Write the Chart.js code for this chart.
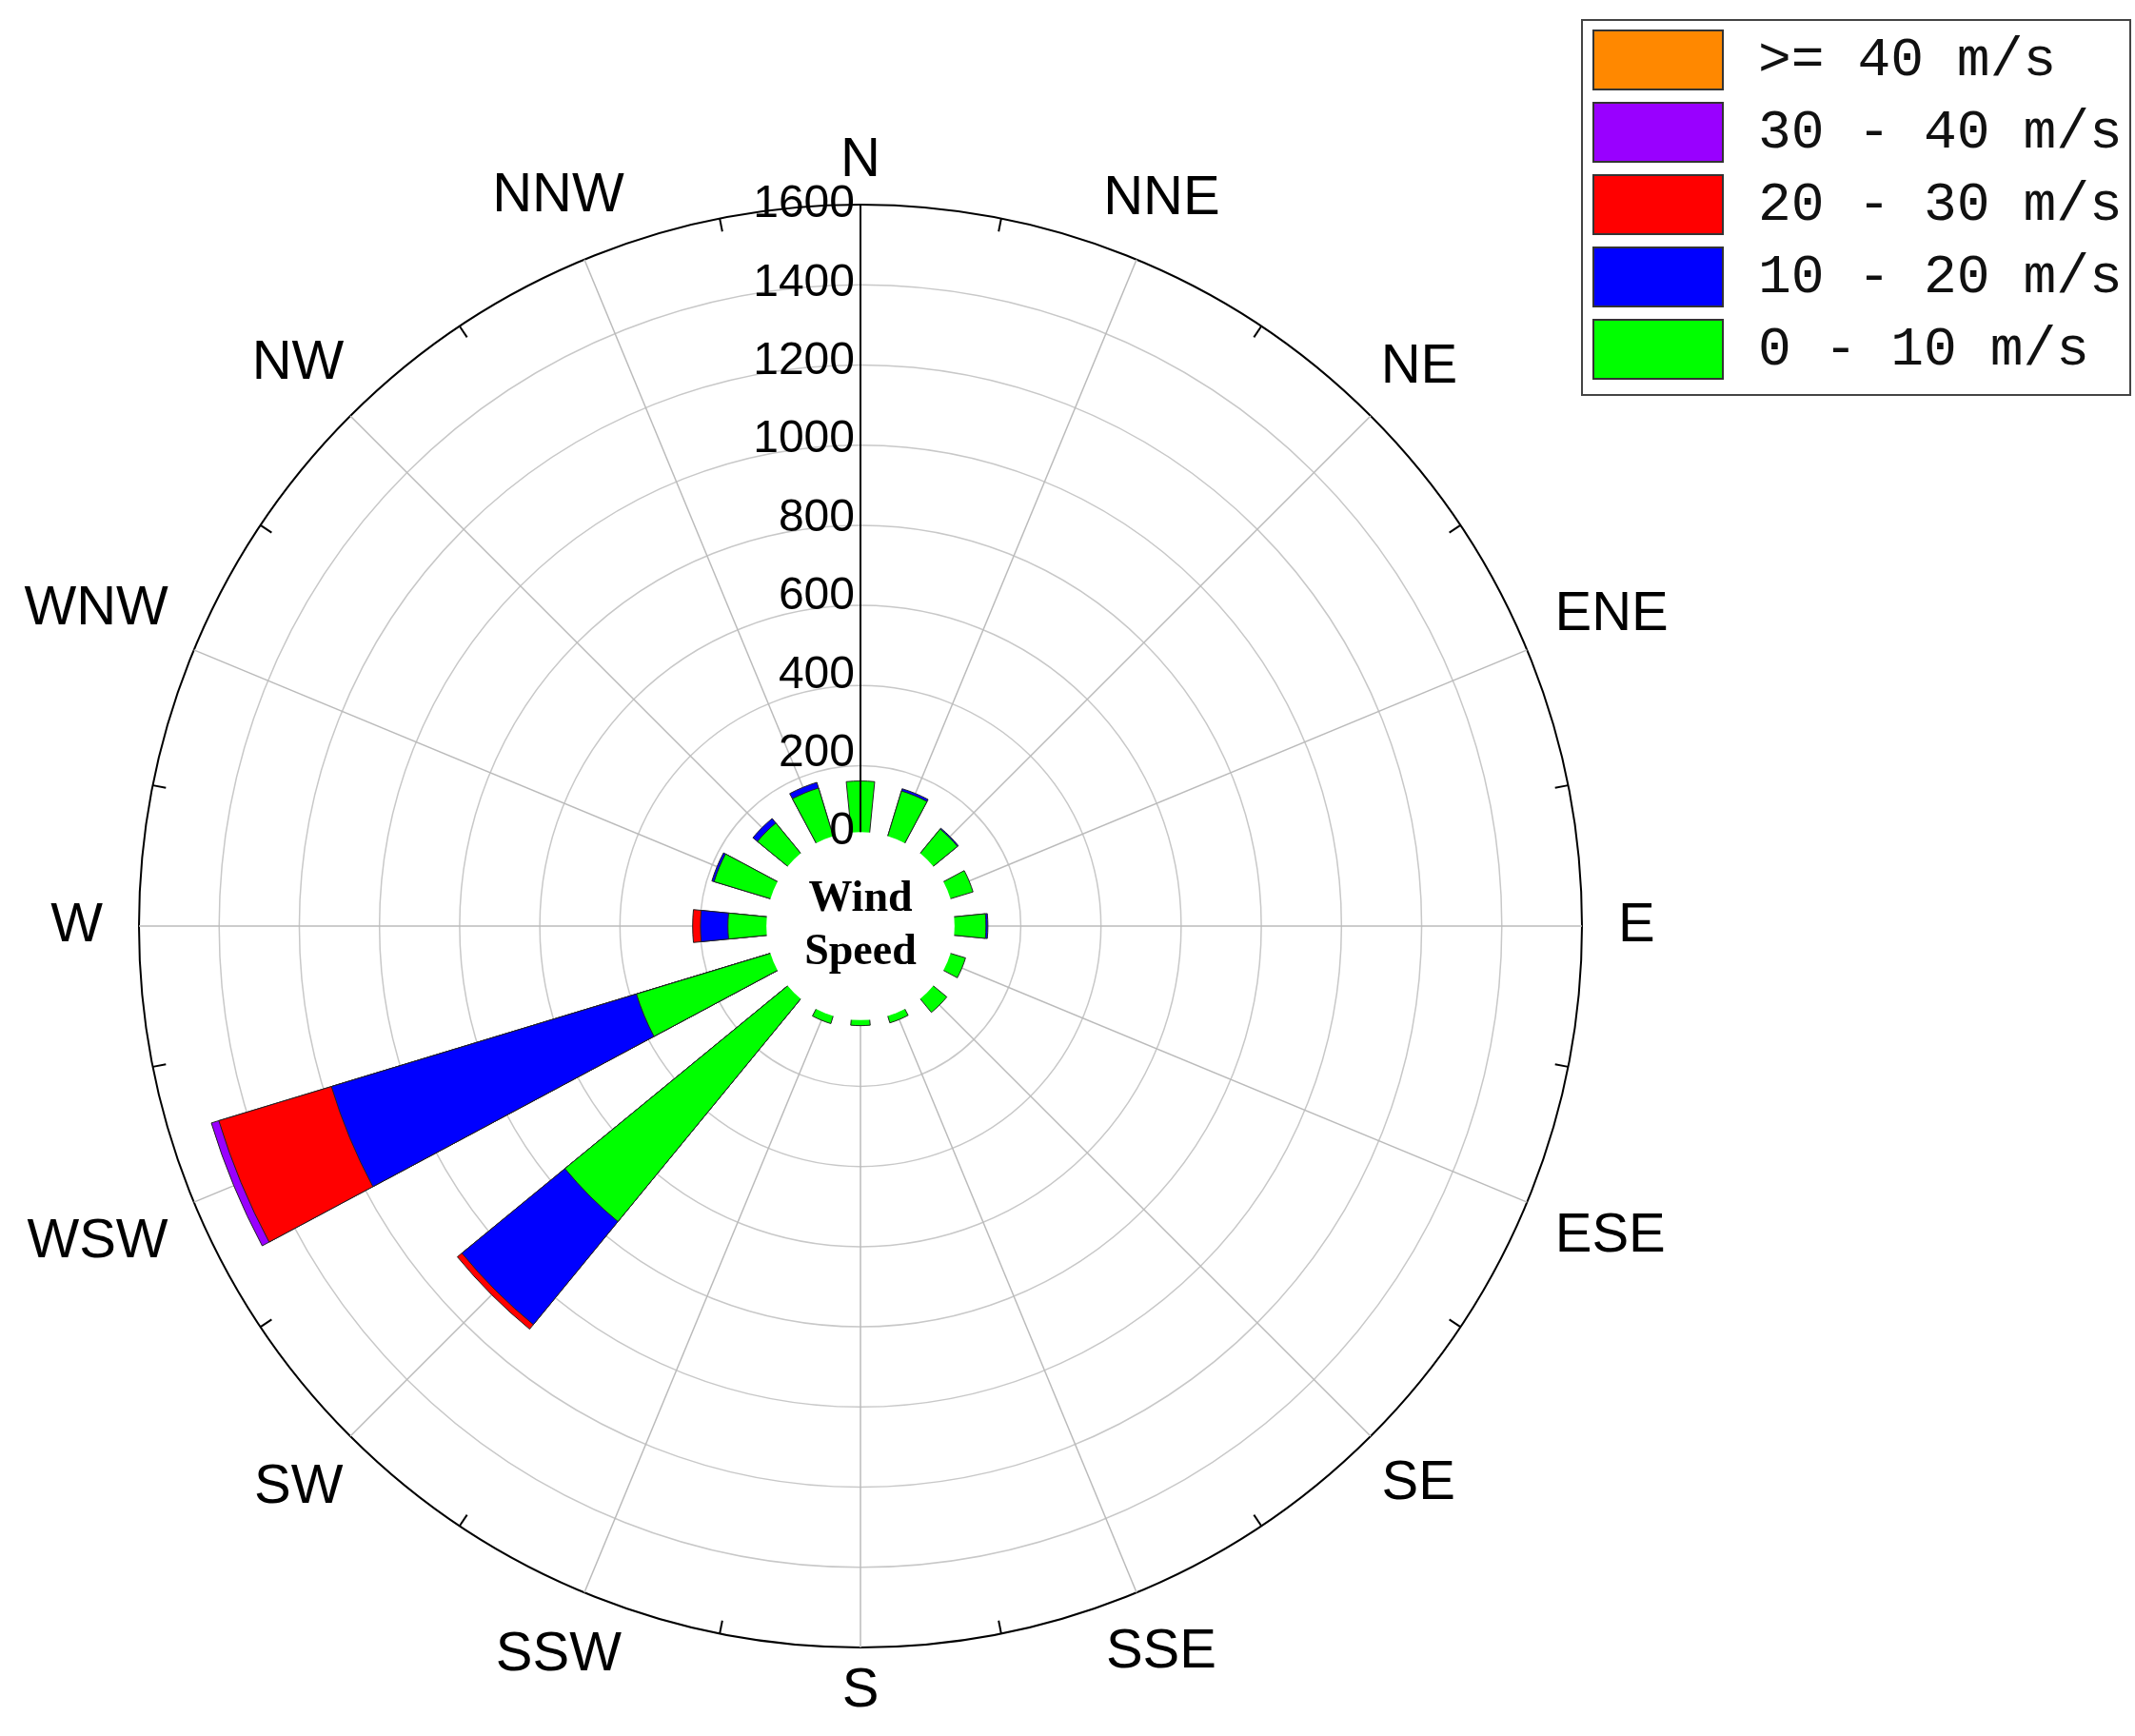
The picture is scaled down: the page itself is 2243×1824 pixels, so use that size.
<!DOCTYPE html>
<html>
<head>
<meta charset="utf-8">
<script src="https://cdn.jsdelivr.net/npm/chart.js@4/dist/chart.umd.min.js"></script>
<style>
  body { margin: 0; background: #fff; }
  #wrap { position: relative; width: 2243px; height: 1824px; }
  #legend { position: absolute; left: 1661px; top: 20px; width: 578px; height: 396px;
    border: 2px solid #444; box-sizing: border-box; background: #fff; }
  .row { position: absolute; left: 10px; height: 66px; display: flex; align-items: center; }
  .sw { width: 138px; height: 64px; border: 2px solid #333; box-sizing: border-box; }
  .lbl { margin-left: 36px; font-family: "Liberation Mono", monospace; font-size: 58px; color: #111; white-space: pre; }
</style>
</head>
<body>
<div id="wrap">
  <canvas id="rose" width="2243" height="1824"></canvas>
  <div id="legend"></div>
</div>
<script>
// Directions and wind-speed bins
const directions = ['N', 'NNE', 'NE', 'ENE', 'E', 'ESE', 'SE', 'SSE', 'S', 'SSW', 'SW', 'WSW', 'W', 'WNW', 'NW', 'NNW'];
const binLabels = ['0 - 10 m/s', '10 - 20 m/s', '20 - 30 m/s', '30 - 40 m/s', '>= 40 m/s'];
const binColors = ['#00ff00', '#0000ff', '#ff0000', '#9900ff', '#ff8800'];

// counts per direction for each bin
const speed0to10  = [130, 120, 80, 60, 80, 40, 45, 18, 14, 20, 735, 357, 98, 150, 100, 128];
const speed10to20 = [0, 6, 3, 0, 5, 0, 0, 0, 0, 0, 340, 813, 70, 6, 15, 15];
const speed20to30 = [0, 0, 0, 0, 0, 0, 0, 0, 0, 0, 15, 300, 20, 0, 0, 0];
const speed30to40 = [0, 0, 0, 0, 0, 0, 0, 0, 0, 0, 0, 20, 0, 0, 0, 0];
const speed40up   = [0, 0, 0, 0, 0, 0, 0, 0, 0, 0, 0, 0, 0, 0, 0, 0];

const rTicks = [0, 200, 400, 600, 800, 1000, 1200, 1400, 1600];
const rMin = -240, rMax = 1600;

const bins = [speed0to10, speed10to20, speed20to30, speed30to40, speed40up];

// cumulative totals, with an empty slot between neighbouring directions
const labels = [];
directions.forEach(d => { labels.push(d); labels.push(''); });
const datasets = bins.map((bin, b) => {
  const data = [];
  directions.forEach((d, i) => {
    let sum = 0;
    for (let k = 0; k <= b; k++) sum += bins[k][i];
    data.push(bin[i] > 0 || b === 0 ? sum : rMin);
    data.push(rMin);
  });
  return {
    label: binLabels[b],
    data: data,
    backgroundColor: binColors[b],
    borderColor: '#222',
    borderWidth: 1
  };
});

const decor = {
  id: 'decor',
  beforeDatasetsDraw(chart) {
    const r = chart.scales.r, c = chart.ctx;
    const cx = r.xCenter, cy = r.yCenter, R = r.drawingArea;
    c.save();
    c.strokeStyle = '#bbb'; c.lineWidth = 1.5;
    for (let i = 0; i < 16; i++) {
      const a = i * Math.PI / 8 - Math.PI / 2;
      c.beginPath();
      c.moveTo(cx, cy);
      c.lineTo(cx + R * Math.cos(a), cy + R * Math.sin(a));
      c.stroke();
    }
    c.restore();
  },
  afterDatasetsDraw(chart) {
    const r = chart.scales.r, c = chart.ctx;
    const cx = r.xCenter, cy = r.yCenter, R = r.drawingArea;
    const hole = r.getDistanceFromCenterForValue(0);
    c.save();
    // hole
    c.fillStyle = '#fff';
    c.beginPath(); c.arc(cx, cy, hole, 0, Math.PI * 2); c.fill();
    c.fillStyle = '#000';
    c.font = 'bold 46px "Liberation Serif"';
    c.textAlign = 'center'; c.textBaseline = 'middle';
    c.fillText('Wind', cx, cy - 28);
    c.fillText('Speed', cx, cy + 28);
    // N axis line
    c.strokeStyle = '#000'; c.lineWidth = 2;
    c.beginPath(); c.moveTo(cx, cy - hole); c.lineTo(cx, cy - R); c.stroke();
    // outer ticks
    for (let i = 1; i < 32; i += 2) {
      const a = i * Math.PI / 16 - Math.PI / 2;
      c.beginPath();
      c.moveTo(cx + R * Math.cos(a), cy + R * Math.sin(a));
      c.lineTo(cx + (R - 14) * Math.cos(a), cy + (R - 14) * Math.sin(a));
      c.stroke();
    }
    // tick labels
    c.font = '48px "Liberation Sans"';
    c.textAlign = 'right';
    rTicks.forEach(v => {
      const d = r.getDistanceFromCenterForValue(v);
      c.fillText(String(v), cx - 6, cy - d);
    });
    // direction labels
    c.font = '58px "Liberation Sans"';
    c.textAlign = 'center';
    directions.forEach((d, i) => {
      const a = i * Math.PI / 8 - Math.PI / 2;
      const w = c.measureText(d).width / 2;
      const rr = R + 38 + w * Math.abs(Math.cos(a)) + 8 * Math.abs(Math.sin(a));
      c.fillText(d, cx + rr * Math.cos(a), cy + rr * Math.sin(a));
    });
    c.restore();
  }
};

new Chart(document.getElementById('rose'), {
  type: 'polarArea',
  data: { labels: labels, datasets: datasets },
  options: {
    responsive: false,
    animation: false,
    layout: { padding: { left: 145, right: 580, top: 215, bottom: 93 } },
    scales: {
      r: {
        min: rMin, max: rMax,
        startAngle: -5.625,
        ticks: { stepSize: 200, display: false },
        grid: {
          color: ctx => ctx.tick.value < 0 ? 'rgba(0,0,0,0)' : (ctx.tick.value === rMax ? '#000' : '#c8c8c8'),
          lineWidth: ctx => ctx.tick.value === rMax ? 2 : 1.5
        },
        angleLines: { display: false },
        pointLabels: { display: false }
      }
    },
    plugins: { legend: { display: false }, tooltip: { enabled: false } }
  },
  plugins: [decor]
});

// legend, highest bin on top
const leg = document.getElementById('legend');
for (let b = binLabels.length - 1, row = 0; b >= 0; b--, row++) {
  const div = document.createElement('div');
  div.className = 'row';
  div.style.top = (8 + row * 76) + 'px';
  div.innerHTML = '<div class="sw" style="background:' + binColors[b] + '"></div><span class="lbl">' + binLabels[b] + '</span>';
  leg.appendChild(div);
}
</script>
</body>
</html>
